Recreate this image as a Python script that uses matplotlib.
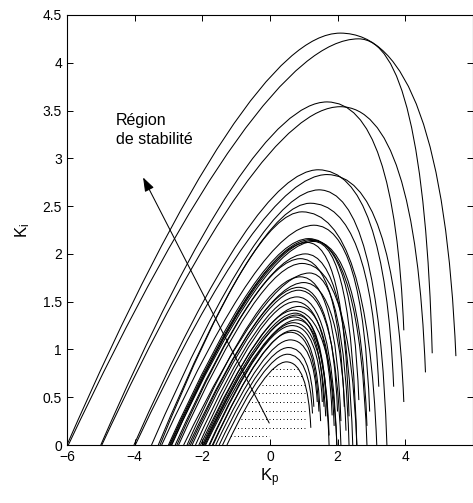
import numpy as np
import matplotlib.pyplot as plt
from matplotlib.path import Path
from matplotlib.patches import PathPatch, FancyArrowPatch

plt.rcParams['font.family'] = ['Liberation Sans', 'DejaVu Sans']
plt.rcParams['mathtext.default'] = 'regular'

# boundary curves: root on Ki=0, peak, last point
root_kp = [-6.00, -5.96, -5.00, -4.97, -4.02, -3.98, -3.50, -3.30, -3.25,
           -3.20, -3.00, -2.97, -2.95, -2.92, -2.90, -2.80, -2.75, -2.70,
           -2.55, -2.45, -2.40, -2.35, -2.30, -2.20, -2.10, -2.05, -2.00,
           -1.97, -1.95, -1.92, -1.90, -1.80, -1.78, -1.70, -1.68, -1.60,
           -1.50, -1.40, -1.27]
peak_kp = [2.08, 2.62, 1.69, 2.08, 1.43, 1.69, 1.45, 1.19, 0.95,
           1.30, 1.15, 1.20, 1.25, 1.30, 1.10, 1.05, 0.90, 0.95,
           1.17, 0.90, 1.00, 0.85, 0.85, 0.80, 0.75, 0.85, 0.70,
           0.75, 0.78, 0.72, 0.80, 0.70, 0.65, 0.68, 0.60, 0.60,
           0.55, 0.52, 0.49]
peak_ki = [4.31, 4.25, 3.59, 3.54, 2.88, 2.83, 2.67, 2.53, 2.44,
           2.30, 2.16, 2.15, 2.14, 2.13, 2.12, 2.00, 1.95, 1.90,
           1.80, 1.76, 1.70, 1.65, 1.62, 1.55, 1.50, 1.45, 1.41,
           1.38, 1.36, 1.34, 1.31, 1.28, 1.25, 1.20, 1.18, 1.10,
           1.02, 0.95, 0.87]
end_kp = [5.50, 4.80, 3.96, 4.60, 3.66, 3.96, 3.46, 3.22, 3.16,
          2.95, 2.87, 2.63, 2.87, 2.57, 2.34, 2.45, 2.20, 2.57,
          2.34, 2.10, 2.25, 2.00, 2.10, 1.98, 1.84, 1.90, 1.98,
          1.75, 1.70, 1.60, 1.75, 1.65, 1.55, 1.50, 1.45, 1.40,
          1.30, 1.26, 1.21]
end_ki = [0.93, 0.96, 1.20, 0.76, 0.61, 0.45, 0.00, 0.61, 0.00,
          0.35, 0.00, 0.47, 0.20, 0.00, 0.30, 0.00, 0.40, 0.00,
          0.00, 0.25, 0.15, 0.35, 0.00, 0.00, 0.31, 0.20, 0.00,
          0.00, 0.30, 0.40, 0.10, 0.30, 0.45, 0.25, 0.35, 0.45,
          0.40, 0.33, 0.18]

# dotted rows of the stability region
hatch_ki = [0.09, 0.18, 0.27, 0.36, 0.45, 0.54, 0.63, 0.72, 0.80]
hatch_right = 1.03

xticks = [-6, -4, -2, 0, 2, 4, 6]
xtick_labels = ['\u22126', '\u22124', '\u22122', '0', '2', '4', '']
yticks = [0, 0.5, 1, 1.5, 2, 2.5, 3, 3.5, 4, 4.5]
ytick_labels = ['0', '0.5', '1', '1.5', '2', '2.5', '3', '3.5', '4', '4.5']


def boundary_path(x0, xp, yp, xe, ye, closed=False):
    # two quadratic pieces: rise to the peak, then steep fall
    c1 = (x0 + 0.66 * (xp - x0), yp)
    c2 = (xp + 0.88 * (xe - xp), yp)
    verts = [(x0, 0), c1, (xp, yp), c2, (xe, ye)]
    codes = [Path.MOVETO, Path.CURVE3, Path.CURVE3, Path.CURVE3, Path.CURVE3]
    if closed:
        verts.append((x0, 0))
        codes.append(Path.CLOSEPOLY)
    return Path(verts, codes)


fig = plt.figure(figsize=(4.73, 5.03), dpi=100)
ax = fig.add_axes([0.1416, 0.1153, 0.858, 0.855])

for x0, xp, yp, xe, ye in zip(root_kp, peak_kp, peak_ki, end_kp, end_ki):
    ax.add_patch(PathPatch(boundary_path(x0, xp, yp, xe, ye), fill=False,
                           edgecolor='black', lw=0.75))

# stability region (inside innermost curve)
clip = PathPatch(boundary_path(root_kp[-1], peak_kp[-1], peak_ki[-1],
                               end_kp[-1], end_ki[-1], closed=True),
                 facecolor='none', edgecolor='none', transform=ax.transData)
ax.add_patch(clip)
for y in hatch_ki:
    ln, = ax.plot([root_kp[-1], hatch_right], [y, y], color='black', lw=0.7,
                  linestyle=(0, (1, 2.6)))
    ln.set_clip_path(clip)

arrow = FancyArrowPatch((-0.02, 0.23), (-3.75, 2.8),
                        arrowstyle='-|>,head_length=0.85,head_width=0.3',
                        mutation_scale=10, color='black', lw=0.75,
                        shrinkA=0, shrinkB=0)
ax.add_patch(arrow)
ax.text(-4.56, 3.47, 'Région\nde stabilité', fontsize=11.5, ha='left',
        va='top', linespacing=1.3)

ax.set_xlim(-6, 6)
ax.set_ylim(0, 4.5)
ax.set_xticks(xticks)
ax.set_xticklabels(xtick_labels)
ax.set_yticks(yticks)
ax.set_yticklabels(ytick_labels)
ax.tick_params(direction='in', top=True, right=True, length=4, width=0.7,
               labelsize=10)
for s in ax.spines.values():
    s.set_linewidth(0.8)
ax.set_xlabel('K$_{p}$', fontsize=12, labelpad=2)
ax.set_ylabel('K$_{i}$', fontsize=12, labelpad=8)

fig.savefig('out.png', dpi=100)
